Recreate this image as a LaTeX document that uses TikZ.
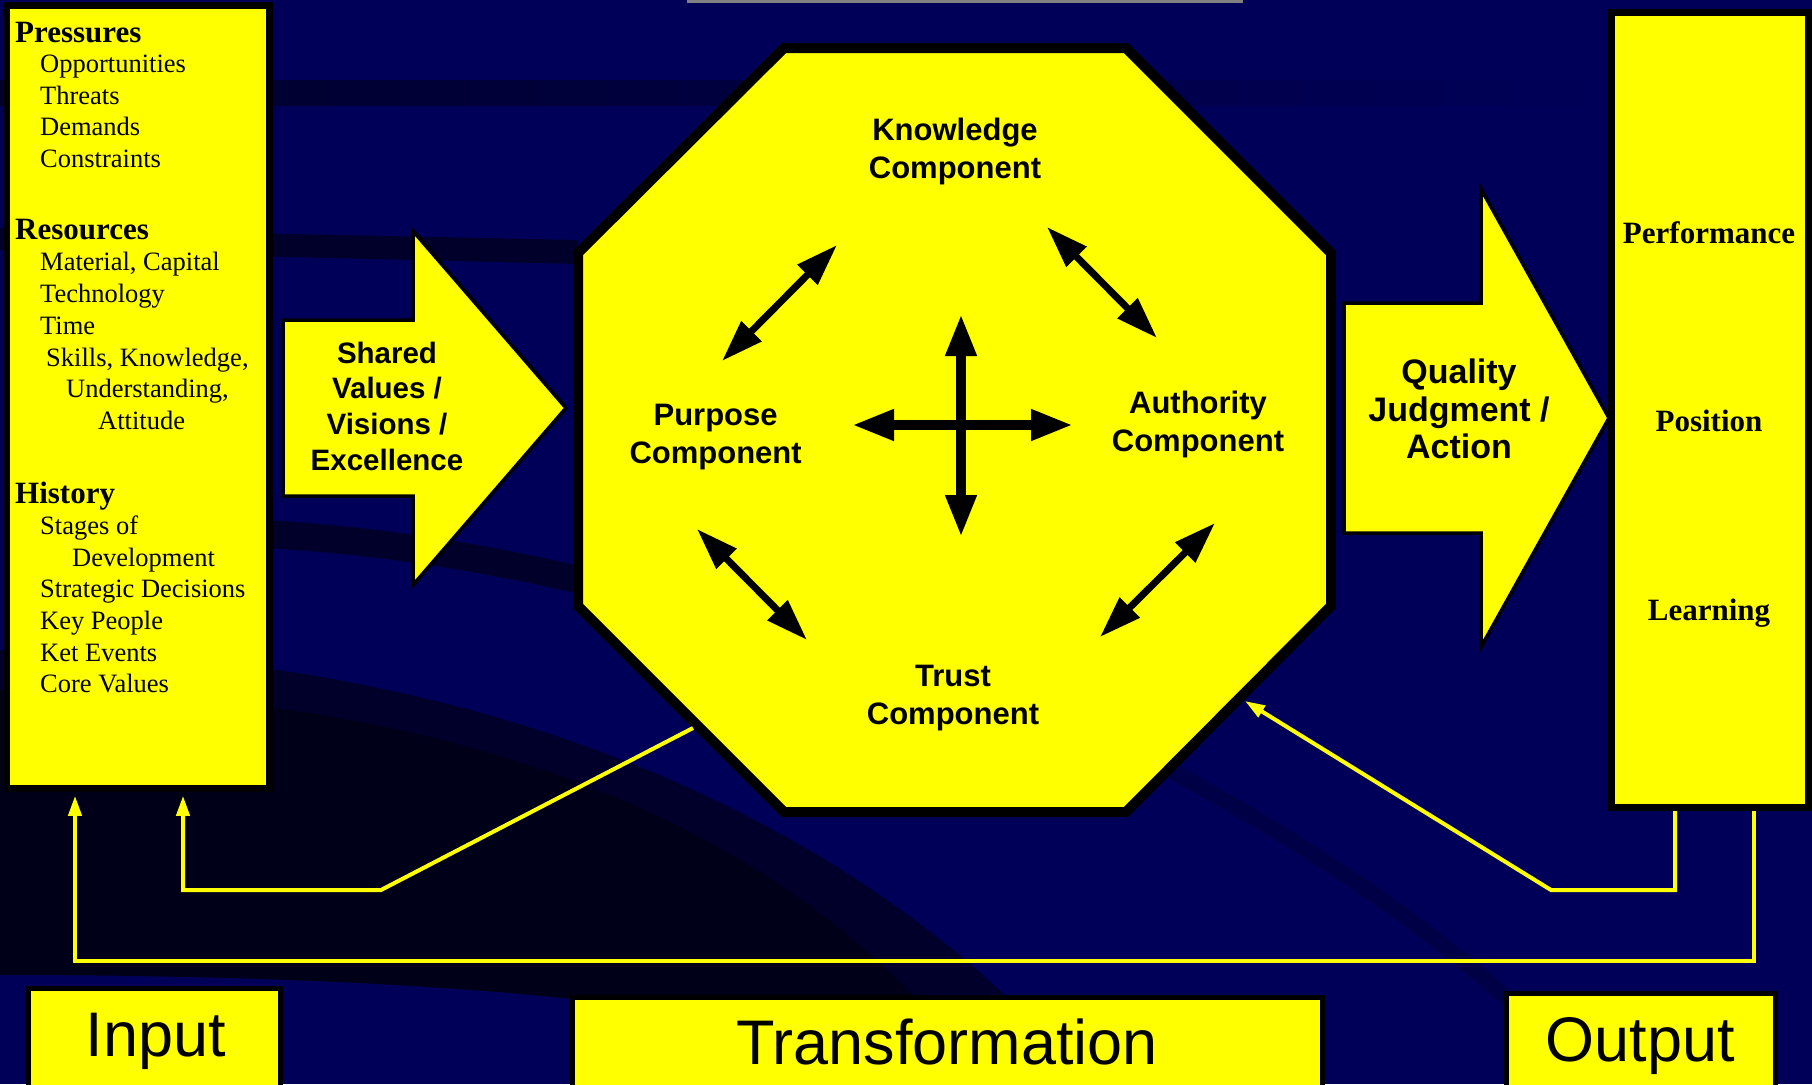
\documentclass[tikz,border=0pt]{standalone}
\usepackage{fontspec}
\setmainfont{Liberation Serif}
\newfontfamily\arialfont{Liberation Sans}
\usepackage{tikz}
\usepackage{xcolor}
\usetikzlibrary{arrows.meta}
\definecolor{navybg}{RGB}{0,0,88}
\definecolor{bandbg}{RGB}{0,0,42}
\definecolor{deepbg}{RGB}{0,0,24}
\definecolor{padyellow}{RGB}{255,255,0}
\definecolor{rulegrey}{RGB}{128,128,128}

\begin{document}
\begin{tikzpicture}[x=1pt, y=-1pt,
    yellowbox/.style={draw=black, fill=padyellow, line width=7pt, inner sep=0pt},
    stagebox/.style={draw=black, fill=padyellow, line width=5pt, inner sep=0pt},
    itemtext/.style={anchor=base west, inner sep=0pt, font=\fontsize{26.5}{32}\selectfont},
    headtext/.style={anchor=base west, inner sep=0pt, font=\fontsize{31}{36}\selectfont\bfseries},
    outtext/.style={anchor=base, inner sep=0pt, font=\fontsize{31}{36}\selectfont\bfseries},
    comptext/.style={align=center, inner sep=0pt, font=\arialfont\bfseries\fontsize{31}{38}\selectfont},
    stagetext/.style={anchor=base, inner sep=0pt, font=\arialfont\fontsize{63}{70}\selectfont}]
            \useasboundingbox (0,0) rectangle (1812,1084);
            \fill[navybg] (0,0) rectangle (1812,1084);
            \shade[left color=bandbg, right color=navybg] (0,80) rectangle (1600,105);
            \fill[bandbg] (0,228) -- (578,240) -- (578,264) -- (0,250) -- cycle;
            \fill[bandbg] (266,520) .. controls (400,528) and (500,548) .. (580,566) -- (580,594) .. controls (500,576) and (400,556) .. (266,548) -- cycle;
            \fill[bandbg] (0,650) .. controls (450,650) and (850,800) .. (1090,1084) -- (990,1084) .. controls (780,800) and (420,690) .. (0,690) -- cycle;
            \fill[deepbg] (0,690) .. controls (420,690) and (780,800) .. (990,1084) -- (900,1084) .. controls (800,1000) and (400,975) .. (0,975) -- cycle;
            \draw[bandbg!40!navybg, line width=16pt] (1164,767) .. controls (1300,840) and (1420,920) .. (1509,1000);
            \fill[rulegrey] (687,0) rectangle (1243,2.5);

            \node[yellowbox, minimum width=263pt, minimum height=783pt] (inputs) at (138,397.25) {};
            \node[yellowbox, minimum width=197.5pt, minimum height=795pt] (outputs) at (1709.75,410) {};

            \node[headtext] (pressures) at (15,42.5) {Pressures};
            \node[itemtext] (opport) at (40,72.7) {Opportunities};
            \node[itemtext] (threats) at (40,104) {Threats};
            \node[itemtext] (demands) at (40,135.5) {Demands};
            \node[itemtext] (constr) at (40,167) {Constraints};
            \node[headtext] (resources) at (15,239) {Resources};
            \node[itemtext] (material) at (40,270.5) {Material, Capital};
            \node[itemtext] (techno) at (40,302) {Technology};
            \node[itemtext] (timeitem) at (40,334) {Time};
            \node[itemtext] (skills) at (46,366) {Skills, Knowledge,};
            \node[itemtext] (underst) at (66,397.5) {Understanding,};
            \node[itemtext] (attit) at (98,429) {Attitude};
            \node[headtext] (history) at (15,503) {History};
            \node[itemtext] (stages) at (40,534) {Stages of};
            \node[itemtext] (develop) at (72,566) {Development};
            \node[itemtext] (strategic) at (40,597.5) {Strategic Decisions};
            \node[itemtext] (keypeople) at (40,629) {Key People};
            \node[itemtext] (ketevents) at (40,661) {Ket Events};
            \node[itemtext] (corevalues) at (40,692.5) {Core Values};

            \node[outtext] (perf) at (1709,243) {Performance};
            \node[outtext] (posit) at (1709,431) {Position};
            \node[outtext] (learn) at (1709,620) {Learning};

            \draw[draw=black, fill=padyellow, line width=3.5pt] (283,320) -- (413,320) -- (413,231) -- (566,408) -- (413,585) -- (413,496) -- (283,496) -- cycle;
            \draw[draw=black, fill=padyellow, line width=3.5pt] (1344,303) -- (1481,303) -- (1481,189) -- (1609,418) -- (1481,647) -- (1481,533) -- (1344,533) -- cycle;
            \node[comptext, font=\arialfont\bfseries\fontsize{29.5}{35.7}\selectfont] (shared) at (387,406) {Shared\\Values /\\Visions /\\Excellence};
            \node[comptext, font=\arialfont\bfseries\fontsize{34}{37.5}\selectfont] (quality) at (1459,409) {Quality\\Judgment /\\Action};

            \draw[draw=black, fill=padyellow, line width=10pt] (784,48) -- (1126,48) -- (1331,253) -- (1331,606) -- (1126,812) -- (784,812) -- (578,606) -- (578,253) -- cycle;
            \node[comptext] (knowledge) at (955,151) {Knowledge\\Component};
            \node[comptext] (purpose) at (715.6,436.6) {Purpose\\Component};
            \node[comptext] (authority) at (1198,424) {Authority\\Component};
            \node[comptext] (trust) at (953,697.6) {Trust\\Component};

            \node[stagebox, minimum width=252pt, minimum height=130pt] (inbox) at (154,1053) {};
            \node[stagebox, minimum width=750pt, minimum height=130pt] (trbox) at (947,1062) {};
            \node[stagebox, minimum width=268.5pt, minimum height=130pt] (outbox) at (1640.75,1058.5) {};
            \node[stagetext] (inlabel) at (156,1056) {Input};
            \node[stagetext] (trlabel) at (947,1064) {Transformation};
            \node[stagetext] (outlabel) at (1640,1061) {Output};

            \coordinate (crossN) at (961,314);
            \coordinate (crossS) at (961,537);
            \coordinate (crossW) at (852,425);
            \coordinate (crossE) at (1073,425);
            \coordinate (pkA) at (722,361);
            \coordinate (pkB) at (837,245);
            \coordinate (kaA) at (1047,227);
            \coordinate (kaB) at (1157,338);
            \coordinate (ptA) at (697,529);
            \coordinate (ptB) at (807,640);
            \coordinate (taA) at (1100,637);
            \coordinate (taB) at (1215,523);

            \tikzset{twoway/.style={<->, >={Triangle[length=42pt,width=27pt]}, line width=7pt}}
            \tikzset{crossway/.style={<->, >={Triangle[length=42pt,width=29pt]}, line width=10pt}}

            \draw[-] (crossN) edge[crossway] (crossS);
            \draw[-] (crossW) edge[crossway] (crossE);
            \draw[-] (pkA) edge[twoway] (pkB);
            \draw[-] (kaA) edge[twoway] (kaB);
            \draw[-] (ptA) edge[twoway] (ptB);
            \draw[-] (taA) edge[twoway] (taB);

            \tikzset{feedback/.style={->, >={Triangle[length=20pt,width=13pt]}, draw=padyellow, line width=4pt}}

            \coordinate (inBase) at ([yshift=-3.5pt]inputs.south);
            \coordinate (octSW) at (693,728);
            \coordinate (bendL) at (381,890);
            \coordinate (cornerL) at (183,890);
            \coordinate (octSE) at (1245,701);
            \coordinate (bendR) at (1551,890);
            \coordinate (midR) at (1675,890);
            \coordinate (lowR) at (1754,961);
            \coordinate (lowL) at (75,961);

            \draw[feedback] (octSW) -- (bendL) -- (cornerL) -- (cornerL |- inBase);
            \draw[feedback] (midR |- outputs.south) -- (midR) -- (bendR) -- (octSE);
            \draw[feedback] (lowR |- outputs.south) -- (lowR) -- (lowL) -- (lowL |- inBase);

        \end{tikzpicture}
\end{document}
